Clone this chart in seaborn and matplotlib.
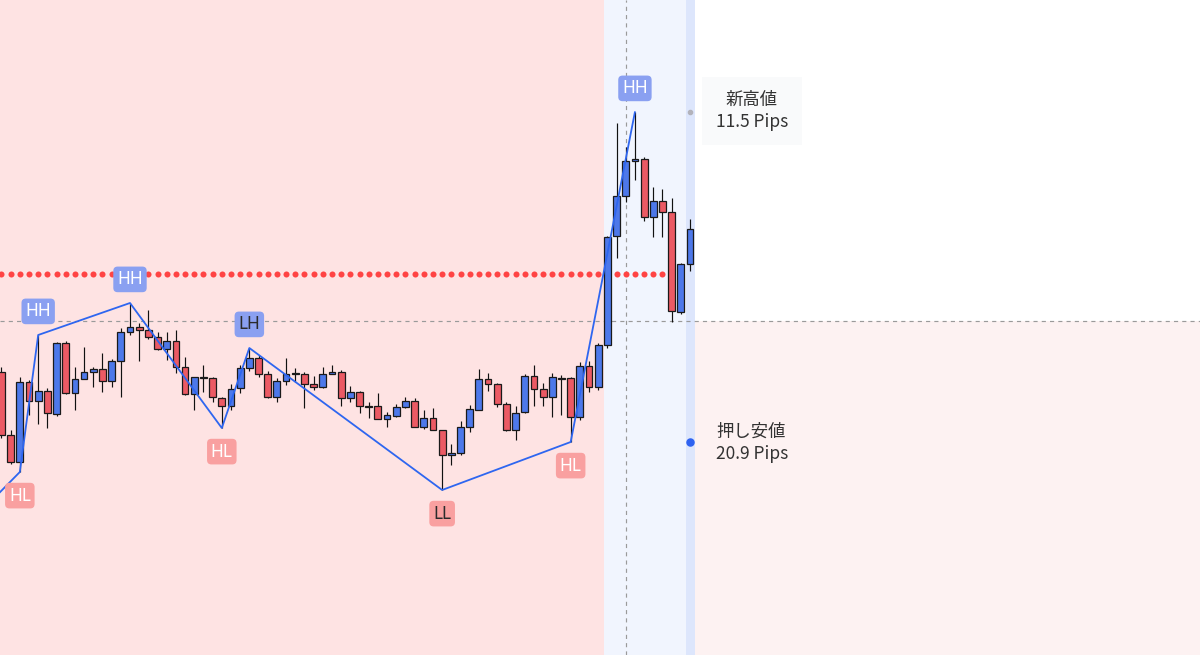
import numpy as np
import pandas as pd
import matplotlib
matplotlib.use("Agg")
import matplotlib.pyplot as plt
import seaborn as sns

# candle prices (chart units)
opens = [283, 220, 193, 273, 254, 264, 241, 312, 262, 276,
         283, 286, 274, 294, 323, 328, 325, 318, 306, 314,
         288, 261, 278, 277, 257, 249, 267, 287, 297, 281,
         258, 274, 282, 281, 271, 268, 281, 283, 257, 263,
         249, 249, 236, 239, 248, 254, 228, 237, 225, 200,
         202, 228, 245, 276, 271, 251, 225, 243, 279, 266,
         258, 277, 277, 238, 289, 268, 310, 419, 459, 494,
         496, 438, 454, 443, 343, 391]
highs = [288, 225, 278, 275, 320, 267, 313, 314, 288, 308,
         288, 302, 296, 327, 352, 332, 345, 323, 323, 325,
         298, 278, 290, 278, 258, 271, 290, 307, 300, 284,
         277, 297, 287, 283, 279, 288, 290, 285, 269, 264,
         253, 262, 243, 251, 258, 257, 245, 247, 225, 211,
         234, 250, 286, 282, 272, 253, 249, 281, 290, 272,
         282, 280, 278, 293, 294, 312, 419, 532, 508, 543,
         498, 468, 466, 457, 392, 436]
lows = [217, 191, 183, 240, 231, 227, 239, 261, 245, 276,
        268, 263, 268, 258, 320, 294, 316, 305, 295, 282,
        260, 245, 263, 253, 227, 245, 262, 284, 278, 257,
        253, 270, 273, 247, 265, 267, 281, 249, 253, 242,
        237, 236, 228, 238, 247, 228, 226, 225, 165, 190,
        200, 223, 245, 264, 248, 224, 215, 242, 249, 249,
        238, 240, 213, 235, 263, 265, 307, 397, 453, 475,
        434, 418, 418, 333, 341, 384]
closes = [220, 193, 273, 254, 264, 242, 312, 262, 276, 283,
          286, 274, 294, 323, 328, 325, 318, 306, 314, 288,
          261, 278, 277, 258, 249, 266, 287, 297, 281, 258,
          274, 281, 281, 271, 268, 281, 283, 257, 263, 249,
          248, 236, 240, 248, 254, 228, 237, 225, 200, 202,
          228, 246, 276, 271, 251, 225, 242, 279, 266, 258,
          278, 276, 238, 289, 268, 310, 418, 459, 494, 496,
          438, 454, 443, 344, 391, 426]

# zigzag swing points
pivot_idx = [-1, 2, 4, 14, 24, 27, 48, 62, 69]
pivot_price = [155, 183, 320, 352, 227, 307, 165, 213, 543]
pivot_labels = ["", "HL", "HH", "HH", "HL", "LH", "LL", "HL", "HH"]

resistance_level = 381
prev_high_level = 334
new_high_level = 543
push_low_level = 213
high_text = ["新高値", "11.5 Pips"]
low_text = ["押し安値", "20.9 Pips"]

df = pd.DataFrame({"open": opens, "high": highs, "low": lows, "close": closes})
df["i"] = np.arange(len(df))

sns.set_theme(style="white")
plt.rcParams["font.family"] = ["Noto Sans CJK JP", "DejaVu Sans"]

fig = plt.figure(figsize=(12, 6.55), dpi=100)
ax = fig.add_axes([0, 0, 1, 1])
ax.set_xlim(-0.16, 130.55)
ax.set_ylim(0, 655)
ax.axis("off")

# background zones
ax.axvspan(-5, 65.63, color="#fee3e3", lw=0, zorder=0)
ax.axvspan(65.63, 74.56, color="#f1f5fe", lw=0, zorder=0)
ax.axvspan(74.56, 75.54, color="#dde6fc", lw=0, zorder=0)
ax.fill_between([75.54, 135], 0, prev_high_level, color="#fdf2f2", lw=0, zorder=0)

ax.axhline(prev_high_level, color="#9a9a9a", lw=0.85, ls=(0, (3.5, 3.5)), zorder=1)
ax.axvline(68, color="#9a9a9a", lw=0.85, ls=(0, (3.5, 3.5)), zorder=1)

# red dotted level
dots = pd.DataFrame({"i": np.arange(0, 73), "p": resistance_level})
sns.scatterplot(data=dots, x="i", y="p", color="#ff4444", s=19, linewidth=0,
                ax=ax, zorder=2, legend=False)

# candles
up = df["close"] > df["open"]
doji = (df["close"] - df["open"]).abs() <= 1
colors = np.where(doji, "#1a1a1a", np.where(up, "#4d78ea", "#eb5a64"))
ax.vlines(df["i"], df["low"], df["high"], color="#111111", lw=0.85, zorder=3)
bottom = np.minimum(df["open"], df["close"])
height = np.maximum((df["close"] - df["open"]).abs(), 0.8)
ax.bar(df["i"], height, bottom=bottom, width=0.74, color=colors,
       edgecolor="#1a1a1a", linewidth=0.9, zorder=4)

# zigzag
sns.lineplot(x=pivot_idx, y=pivot_price, color="#2e66f0", lw=1.3,
             estimator=None, sort=False, ax=ax, zorder=5)

for idx, price, lab in zip(pivot_idx, pivot_price, pivot_labels):
    if not lab:
        continue
    is_high = lab in ("HH", "LH")
    box = "#8aa0f1" if is_high else "#f9a0a0"
    txt = "#2b2b2b" if lab in ("LH", "LL") else "white"
    off = 17 if is_high else -17
    ax.annotate(lab, (idx, price), xytext=(0, off), textcoords="offset points",
                ha="center", va="center", fontsize=12.5, color=txt,
                family=["Noto Sans", "DejaVu Sans"],
                bbox=dict(boxstyle="round,pad=0.22,rounding_size=0.25", fc=box, ec="none"),
                zorder=6)

# level markers at the current bar
ax.scatter([75], [new_high_level], s=9, color="#b3b3bb", zorder=6)
ax.scatter([75], [push_low_level], s=26, color="#2f62f0", zorder=6)

ax.text(81.75, 544, "\n".join(high_text), ha="center", va="center", fontsize=12.5,
        color="#333333", linespacing=1.3,
        bbox=dict(boxstyle="square,pad=0.8", fc="#f9fafb", ec="none"), zorder=6)
ax.text(77.83, 212, "\n".join(low_text), ha="left", va="center", fontsize=12.5,
        color="#333333", linespacing=1.3, zorder=6)

fig.savefig("out.png", dpi=100)
